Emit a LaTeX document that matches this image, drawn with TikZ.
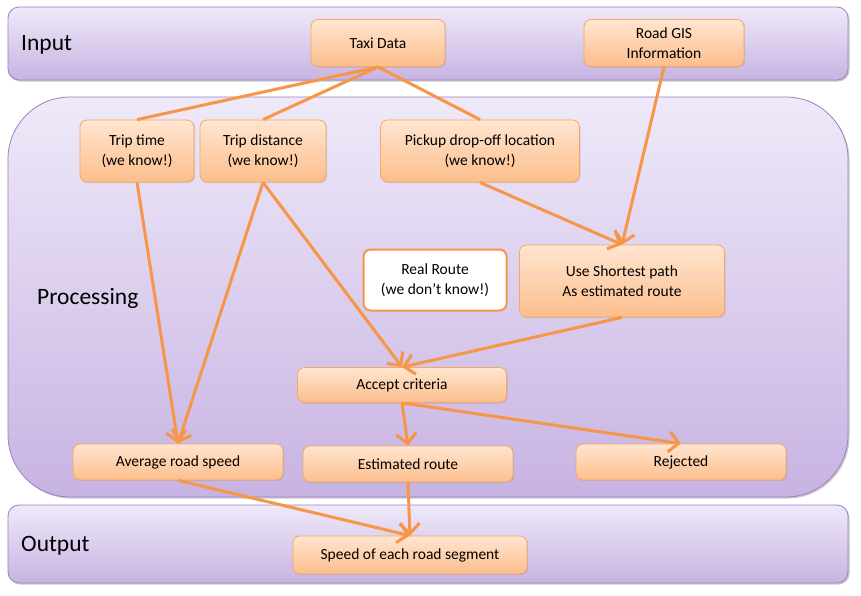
\documentclass[tikz,border=0pt]{standalone}
\usepackage{fontspec}
\setmainfont{Carlito}
\usetikzlibrary{arrows.meta,shadows}
\definecolor{orgline}{HTML}{F79646}
\definecolor{orgtop}{HTML}{FFE5D0}
\definecolor{orgbot}{HTML}{FCBE8C}
\definecolor{orgborder}{HTML}{F4A766}
\definecolor{pantop}{HTML}{EFE9F9}
\definecolor{panbot}{HTML}{C7B3E2}
\definecolor{panborder}{HTML}{9A80C4}
\tikzset{
  panel/.style={top color=pantop,bottom color=panbot,draw=panborder,line width=0.8pt,
    drop shadow={shadow xshift=1.5pt,shadow yshift=-1.5pt,opacity=0.35,fill=black!60}},
  box/.style={rectangle,rounded corners=7pt,draw=orgborder,line width=0.8pt,
    top color=orgtop,bottom color=orgbot,align=center,font=\fontsize{15.5}{20}\selectfont,
    inner sep=0pt,drop shadow={shadow xshift=1pt,shadow yshift=-1pt,opacity=0.25,fill=black!50}},
  wbox/.style={rectangle,rounded corners=7pt,draw=orgline,line width=2pt,fill=white,
    align=center,font=\fontsize{15.5}{20}\selectfont,inner sep=0pt},
  lab/.style={font=\fontsize{23.5}{28}\selectfont,anchor=west,inner sep=0pt},
  conn/.style={draw=orgline,line width=3pt},
  arr/.style={conn,-{Straight Barb[length=10pt,width=20pt,line width=3pt]}},
}
\begin{document}
\begin{tikzpicture}[x=1pt,y=-1pt]
\useasboundingbox (0,0) rectangle (861,595);
% panels
\path[panel,rounded corners=11pt] (8,7) rectangle (848,80);
\path[panel,rounded corners=62pt] (8,97) rectangle (848,497);
\path[panel,rounded corners=11pt] (8,505) rectangle (848,583);
\node[lab] (linput) at (21,45) {Input};
\node[lab] (lproc) at (37,298) {Processing};
\node[lab] (lout) at (21,546) {Output};
% nodes
\node[box,minimum width=134pt,minimum height=47pt] (taxi) at (378,43) {Taxi Data};
\node[box,minimum width=160pt,minimum height=47pt] (gis) at (664,43) {Road GIS\\Information};
\node[box,minimum width=114pt,minimum height=62pt] (ttime) at (137,151) {Trip time\\(we know!)};
\node[box,minimum width=126pt,minimum height=62pt] (tdist) at (263,151) {Trip distance\\(we know!)};
\node[box,minimum width=199pt,minimum height=62pt] (pick) at (480,151) {Pickup drop-off location\\(we know!)};
\node[wbox,minimum width=143pt,minimum height=61pt] (real) at (435,280) {Real Route\\(we don’t know!)};
\node[box,minimum width=205pt,minimum height=72pt] (short) at (622,281) {Use Shortest path\\As estimated route};
\node[box,minimum width=209pt,minimum height=35pt] (accept) at (402,385) {Accept criteria};
\node[box,minimum width=210pt,minimum height=36pt] (avg) at (178,462) {Average road speed};
\node[box,minimum width=210pt,minimum height=36pt] (est) at (408,464) {Estimated route};
\node[box,minimum width=210pt,minimum height=36pt] (rej) at (681,462) {Rejected};
\node[box,minimum width=234pt,minimum height=38pt] (speed) at (410,555) {Speed of each road segment};
% connectors
\draw[conn] (taxi.south) -- (ttime.north);
\draw[conn] (taxi.south) -- (tdist.north);
\draw[conn] (taxi.south) -- (pick.north);
\draw[arr] (gis.south) -- (short.north);
\draw[arr] (pick.south) -- (short.north);
\draw[arr] (ttime.south) -- (avg.north);
\draw[arr] (tdist.south) -- (avg.north);
\draw[arr] (tdist.south) -- (accept.north);
\draw[arr] (short.south) -- (accept.north);
\draw[arr] (accept.south) -- (est.north);
\draw[arr] (accept.south) -- (rej.north);
\draw[arr] (est.south) -- (speed.north);
\draw[arr] (avg.south) -- (speed.north);
\end{tikzpicture}
\end{document}
